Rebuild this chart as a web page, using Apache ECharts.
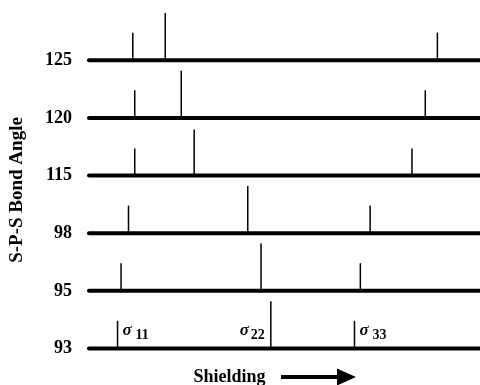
<!DOCTYPE html>
<html>
<head>
<meta charset="utf-8">
<script src="https://cdn.jsdelivr.net/npm/echarts@6/dist/echarts.min.js"></script>
<style>
	html,body{margin:0;padding:0;background:#fff;}
	#chart{width:480px;height:385px;}
</style>
</head>
<body>
<div id="chart"></div>
<script>
	// S-P-S bond angle (one row per angle, bottom to top)
	var angles = ['93', '95', '98', '115', '120', '125'];
	// shielding positions of the three tensor components (arbitrary units 0..100)
	var sigma11 = [7.3, 8.2, 10.1, 11.7, 11.7, 11.2];
	var sigma22 = [46.5, 44.0, 40.6, 26.9, 23.6, 19.5];
	var sigma33 = [67.9, 69.4, 71.9, 82.6, 86.0, 89.1];
	// stick heights (in row units)
	var height11 = [0.48, 0.48, 0.48, 0.47, 0.48, 0.48];
	var height22 = [0.82, 0.82, 0.82, 0.80, 0.82, 0.82];
	var height33 = [0.48, 0.48, 0.48, 0.47, 0.48, 0.48];
	var sigmaNames = ['11', '22', '33'];

	var rows = [];
	for (var i = 0; i < angles.length; i++) {
		rows.push([i, sigma11[i], sigma22[i], sigma33[i], height11[i], height22[i], height33[i]]);
	}

	var serif = '"Liberation Serif", "DejaVu Serif", serif';

	function sigmaLabel(px, py, name, side) {
		// σ with a subscript, placed beside the stick top
		var sx, nx, align;
		if (side === 'left') {
			nx = px - 6; sx = px - 22; align = 'right';
		} else {
			sx = px + 5; nx = px + 18; align = 'left';
		}
		return [{
			type: 'text', x: sx, y: py - 18,
			style: {text: 'σ', fill: '#000', font: 'italic bold 17px ' + serif, align: align, verticalAlign: 'middle'}
		}, {
			type: 'text', x: nx, y: py - 13,
			style: {text: name, fill: '#000', font: 'bold 14px ' + serif, align: align, verticalAlign: 'middle'}
		}];
	}

	function renderRow(params, api) {
		var row = api.value(0);
		var a = api.coord([0, row]);
		var b = api.coord([100, row]);
		var children = [{
			type: 'line',
			shape: {x1: a[0], y1: a[1], x2: b[0] + 4, y2: b[1]},
			style: {stroke: '#000', lineWidth: 4, lineCap: 'round'}
		}];
		for (var k = 0; k < 3; k++) {
			var p0 = api.coord([api.value(1 + k), row]);
			var p1 = api.coord([api.value(1 + k), row + api.value(4 + k)]);
			children.push({
				type: 'line',
				shape: {x1: p0[0], y1: p0[1], x2: p1[0], y2: p1[1]},
				style: {stroke: '#000', lineWidth: 1.5}
			});
			if (row === 0) {
				children = children.concat(sigmaLabel(p0[0], p0[1], sigmaNames[k], k === 1 ? 'left' : 'right'));
			}
		}
		return {type: 'group', children: children};
	}

	var chart = echarts.init(document.getElementById('chart'));
	var option = {
		animation: false,
		backgroundColor: '#fff',
		grid: {left: 86, right: 0, top: 31.5, bottom: 36.5},
		xAxis: {
			type: 'value', min: 0, max: 100,
			axisLine: {show: false}, axisTick: {show: false},
			axisLabel: {show: false}, splitLine: {show: false}
		},
		yAxis: {
			type: 'value', min: 0, max: 5.5, interval: 1,
			name: 'S-P-S Bond Angle',
			nameLocation: 'middle',
			nameGap: 62,
			nameRotate: 90,
			nameTextStyle: {color: '#000', fontFamily: serif, fontWeight: 'bold', fontSize: 19},
			axisLine: {show: false}, axisTick: {show: false}, splitLine: {show: false},
			axisLabel: {
				margin: 17,
				color: '#000', fontFamily: serif, fontWeight: 'bold', fontSize: 18,
				formatter: function (v) {
					return angles[v] !== undefined && v === Math.round(v) ? angles[v] : '';
				}
			}
		},
		graphic: [{
			type: 'text', x: 229.5, y: 377,
			style: {text: 'Shielding', fill: '#000', font: 'bold 18px ' + serif, align: 'center', verticalAlign: 'middle'}
		}, {
			type: 'polygon',
			shape: {points: [[281, 375], [337, 375], [337, 368.5], [356, 377], [337, 385.5], [337, 379], [281, 379]]},
			style: {fill: '#000'}
		}],
		series: [{
			type: 'custom',
			clip: false,
			encode: {x: [1, 2, 3], y: 0},
			renderItem: renderRow,
			data: rows
		}]
	};
	chart.setOption(option);
</script>
</body>
</html>
